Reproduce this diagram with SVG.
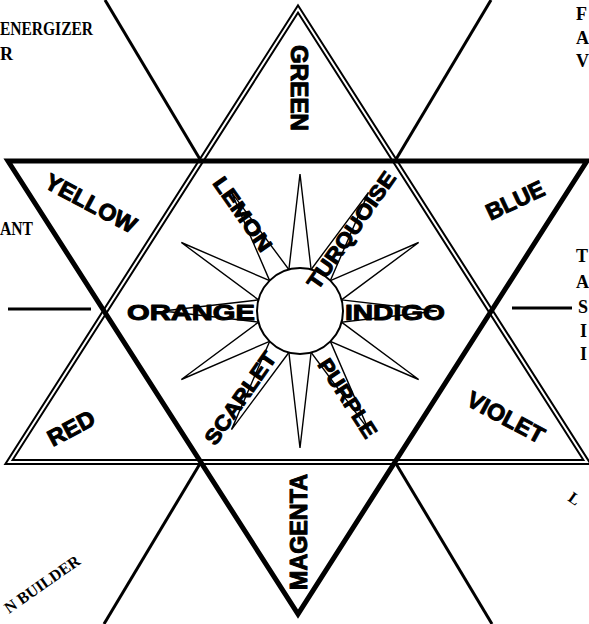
<svg xmlns="http://www.w3.org/2000/svg" width="589" height="624" viewBox="0 0 589 624">
<style>
.lbl{font-family:"Liberation Sans",Arial,sans-serif;font-weight:bold;fill:#000;stroke:#000;stroke-width:1;stroke-linejoin:round;text-anchor:middle}
.side{font-family:"Liberation Serif","Times New Roman",serif;font-weight:bold;fill:#000}
.outer{stroke:#000;stroke-width:3;fill:none}
.ray{fill:#fff;stroke:#000;stroke-width:1.4;stroke-linejoin:miter}
</style>
<defs>
<polygon id="ray" points="41.5,-11.1 137,0 41.5,11.1"/>
</defs>
<rect width="589" height="624" fill="#fff"/>
<g id="connectors">
<line class="outer" x1="105" y1="0" x2="201" y2="161"/>
<line class="outer" x1="491" y1="0" x2="395" y2="161"/>
<line class="outer" x1="201" y1="462" x2="104" y2="624"/>
<line class="outer" x1="395" y1="462" x2="492" y2="624"/>
<line class="outer" x1="8" y1="309" x2="91" y2="309"/>
<line class="outer" x1="512" y1="308" x2="572" y2="308"/>
</g>
<g id="star">
<polygon points="298,9 587,462 9,462" fill="none" stroke="#000" stroke-width="6" stroke-linejoin="miter"/>
<polygon points="298,9 587,462 9,462" fill="none" stroke="#fff" stroke-width="2" stroke-linejoin="miter"/>
<polygon points="8,161 587,161 298,614" fill="none" stroke="#000" stroke-width="5" stroke-linejoin="miter"/>
</g>
<g id="sun">
<g class="ray">
<use href="#ray" transform="translate(300,311) rotate(0)"/>
<use href="#ray" transform="translate(300,311) rotate(30)"/>
<use href="#ray" transform="translate(300,311) rotate(60)"/>
<use href="#ray" transform="translate(300,311) rotate(90)"/>
<use href="#ray" transform="translate(300,311) rotate(120)"/>
<use href="#ray" transform="translate(300,311) rotate(150)"/>
<use href="#ray" transform="translate(300,311) rotate(180)"/>
<use href="#ray" transform="translate(300,311) rotate(210)"/>
<use href="#ray" transform="translate(300,311) rotate(240)"/>
<use href="#ray" transform="translate(300,311) rotate(270)"/>
<use href="#ray" transform="translate(300,311) rotate(300)"/>
<use href="#ray" transform="translate(300,311) rotate(330)"/>
</g>
<circle cx="300" cy="311" r="43" fill="#fff" stroke="#000" stroke-width="2"/>
</g>
<g id="green"><text class="lbl" font-size="24" transform="translate(299,88) rotate(90)" y="8.5" textLength="86" lengthAdjust="spacingAndGlyphs">GREEN</text></g>
<g id="magenta"><text class="lbl" font-size="23" transform="translate(298,532) rotate(-90)" y="8.5" textLength="116" lengthAdjust="spacingAndGlyphs">MAGENTA</text></g>
<g id="yellow"><text class="lbl" font-size="23" transform="translate(91,203) rotate(28)" y="8.3" textLength="100" lengthAdjust="spacingAndGlyphs">YELLOW</text></g>
<g id="blue"><text class="lbl" font-size="23" transform="translate(515,200) rotate(-25)" y="8.3" textLength="62" lengthAdjust="spacingAndGlyphs">BLUE</text></g>
<g id="red"><text class="lbl" font-size="23" transform="translate(71,428) rotate(-28)" y="8.3" textLength="50" lengthAdjust="spacingAndGlyphs">RED</text></g>
<g id="violet"><text class="lbl" font-size="23" transform="translate(506,417) rotate(28)" y="8.3" textLength="84" lengthAdjust="spacingAndGlyphs">VIOLET</text></g>
<g id="orange"><text class="lbl" font-size="22" x="191" y="320" textLength="128" lengthAdjust="spacingAndGlyphs">ORANGE</text></g>
<g id="indigo"><text class="lbl" font-size="22" x="395" y="320" textLength="100" lengthAdjust="spacingAndGlyphs">INDIGO</text></g>
<g id="lemon"><text class="lbl" font-size="21" transform="translate(243,214) rotate(55)" y="7.6" textLength="86" lengthAdjust="spacingAndGlyphs">LEMON</text></g>
<g id="turquoise"><text class="lbl" font-size="21" transform="translate(351,230) rotate(-55)" y="7.6" textLength="138" lengthAdjust="spacingAndGlyphs">TURQUOISE</text></g>
<g id="scarlet"><text class="lbl" font-size="21" transform="translate(240,398) rotate(-55)" y="7.6" textLength="108" lengthAdjust="spacingAndGlyphs">SCARLET</text></g>
<g id="purple"><text class="lbl" font-size="21" transform="translate(348,398) rotate(57)" y="7.6" textLength="90" lengthAdjust="spacingAndGlyphs">PURPLE</text></g>
<g id="edge-texts">
<text class="side" font-size="18" x="0" y="35" textLength="93" lengthAdjust="spacingAndGlyphs">ENERGIZER</text>
<text class="side" font-size="18" x="0" y="60">R</text>
<text class="side" font-size="18" x="0" y="235" textLength="33" lengthAdjust="spacingAndGlyphs">ANT</text>
<text class="side" font-size="18" x="576" y="20">F</text>
<text class="side" font-size="18" x="576" y="44">A</text>
<text class="side" font-size="18" x="576" y="67">V</text>
<text class="side" font-size="18" x="576" y="262">T</text>
<text class="side" font-size="18" x="576" y="288">A</text>
<text class="side" font-size="18" x="578" y="313">S</text>
<text class="side" font-size="18" x="580" y="337">I</text>
<text class="side" font-size="18" x="580" y="360">I</text>
<text class="side" font-size="16" transform="translate(9,614) rotate(-35)">N BUILDER</text>
<text class="side" font-size="16" transform="translate(567,500) rotate(35)">L</text>
</g>
</svg>
